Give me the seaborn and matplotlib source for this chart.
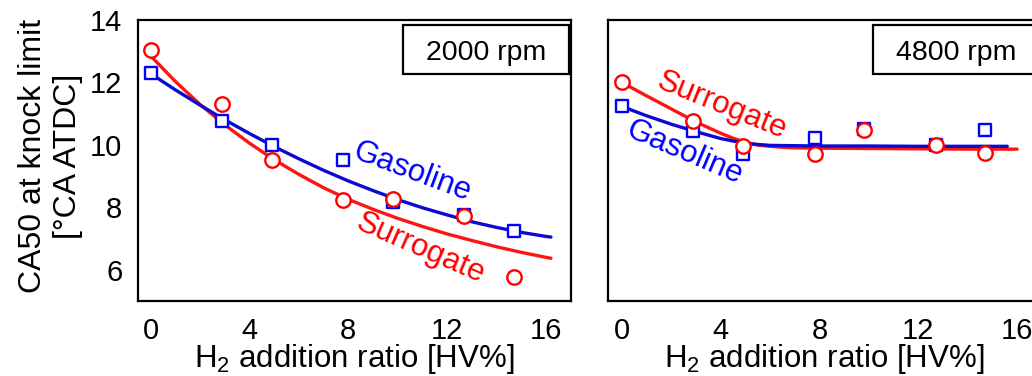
import matplotlib
matplotlib.use("Agg")
import matplotlib.pyplot as plt
from matplotlib.patches import Rectangle
import seaborn as sns

# H2 addition ratio of each measured point [HV%]
h2_ratio = [0, 2.9, 4.9, 7.8, 9.8, 12.7, 14.7]

# CA50 at knock limit [deg CA ATDC], 2000 rpm
gasoline_2000 = [12.3, 10.75, 10.0, 9.5, 8.17, 7.76, 7.25]
surrogate_2000 = [13.05, 11.3, 9.5, 8.23, 8.25, 7.73, 5.75]

# CA50 at knock limit [deg CA ATDC], 4800 rpm
gasoline_4800 = [11.23, 10.43, 9.7, 10.21, 10.5, 9.98, 10.48]
surrogate_4800 = [12.0, 10.75, 9.97, 9.71, 10.48, 9.98, 9.73]

# trend curves, 2000 rpm
trend_x_2000 = [0, 1, 2, 3, 4, 5, 6, 7, 8, 9, 10, 11, 12, 13, 14, 15, 16, 16.2]
gasoline_trend_2000 = [12.28, 11.76, 11.27, 10.80, 10.36, 9.94, 9.55, 9.18, 8.84,
                       8.53, 8.24, 7.98, 7.75, 7.53, 7.35, 7.19, 7.06, 7.04]
surrogate_trend_2000 = [12.85, 12.03, 11.29, 10.64, 10.05, 9.52, 9.05, 8.62, 8.25,
                        7.93, 7.64, 7.38, 7.14, 6.93, 6.73, 6.55, 6.39, 6.36]

# trend curves, 4800 rpm
gasoline_trend_x_4800 = [0, 1, 2, 3, 4, 4.5, 5, 5.5, 6, 7, 8, 10, 12, 14, 15.6]
gasoline_trend_4800 = [11.23, 10.93, 10.66, 10.42, 10.20, 10.12, 10.05, 10.01, 9.98,
                       9.97, 9.96, 9.96, 9.95, 9.95, 9.95]
surrogate_trend_x_4800 = [0, 1, 2, 3, 4, 4.5, 5, 5.5, 6, 6.5, 7, 8, 10, 12, 14, 16]
surrogate_trend_4800 = [12.0, 11.57, 11.15, 10.73, 10.37, 10.21, 10.08, 9.99, 9.95,
                        9.92, 9.90, 9.89, 9.88, 9.87, 9.86, 9.86]

speed_labels = ["2000 rpm", "4800 rpm"]
x_ticks = [0, 4, 8, 12, 16]
y_ticks = [6, 8, 10, 12, 14]

BLUE = "#0000ff"
RED = "#ff0000"
BLUE_LINE = "#0a0ad2"
RED_LINE = "#ff1414"

sns.set_theme(style="white")
plt.rcParams["font.family"] = ["Liberation Sans", "DejaVu Sans"]
plt.rcParams["text.color"] = "black"
plt.rcParams["axes.labelcolor"] = "black"
plt.rcParams["xtick.color"] = "black"
plt.rcParams["ytick.color"] = "black"

W, H = 1032, 376
fig = plt.figure(figsize=(W / 100, H / 100), dpi=100)
ax_w = 432.4 / W
ax_h = 280.7 / H
ax_b = 1 - 300.7 / H
ax1 = fig.add_axes([138.3 / W, ax_b, ax_w, ax_h])
ax2 = fig.add_axes([608.2 / W, ax_b, ax_w, ax_h])


def draw_panel(ax, gas, sur, gas_tx, gas_ty, sur_tx, sur_ty, speed):
    sns.lineplot(x=sur_tx, y=sur_ty, color=RED_LINE, linewidth=2.4, ax=ax, zorder=2)
    sns.lineplot(x=gas_tx, y=gas_ty, color=BLUE_LINE, linewidth=2.4, ax=ax, zorder=3)
    sns.scatterplot(x=h2_ratio, y=gas, marker="s", s=84, color="white",
                    edgecolor=BLUE, linewidth=1.7, ax=ax, zorder=4)
    sns.scatterplot(x=h2_ratio, y=sur, marker="o", s=108, color="white",
                    edgecolor=RED, linewidth=1.7, ax=ax, zorder=5)

    ax.set_ylim(5, 14)
    ax.set_xticks(x_ticks)
    ax.set_yticks(y_ticks)
    ax.tick_params(direction="in", length=3.5, width=1.4, labelsize=21, pad=11.5,
                   top=False, right=False)
    for sp in ax.spines.values():
        sp.set_linewidth(1.6)
        sp.set_color("black")

    ax.add_patch(Rectangle((0.612, 0.8076), 0.385, 0.1745, transform=ax.transAxes,
                           facecolor="white", edgecolor="black", linewidth=1.6,
                           zorder=6, clip_on=False))
    ax.text(0.8045, 0.8575, speed, transform=ax.transAxes, ha="center",
            va="baseline", fontsize=20.5, zorder=7)

    ax.set_xlabel("H$_\\mathregular{2}$ addition ratio [HV%]", fontsize=22.5)
    ax.xaxis.set_label_coords(0.5, -0.148)


draw_panel(ax1, gasoline_2000, surrogate_2000, trend_x_2000, gasoline_trend_2000,
           trend_x_2000, surrogate_trend_2000, speed_labels[0])
draw_panel(ax2, gasoline_4800, surrogate_4800, gasoline_trend_x_4800,
           gasoline_trend_4800, surrogate_trend_x_4800, surrogate_trend_4800,
           speed_labels[1])

ax1.set_xlim(-0.5, 17)
ax2.set_xlim(-0.55, 16.95)
ax2.tick_params(labelleft=False)

ax1.set_ylabel("CA50 at knock limit\n[°CA ATDC]", fontsize=23, linespacing=1.2)
ax1.yaxis.set_label_coords(-0.128, 0.515)
ax2.set_ylabel("")

# curve names written along the trend lines
txt = dict(ha="center", va="center", rotation_mode="anchor", fontsize=22.5, zorder=8)
ax1.text(10.6, 9.14, "Gasoline", rotation=-20.4, color=BLUE, **txt)
ax1.text(10.93, 6.68, "Surrogate", rotation=-23.5, color=RED, **txt)
ax2.text(4.06, 11.25, "Surrogate", rotation=-22, color=RED, **txt)
ax2.text(2.55, 9.73, "Gasoline", rotation=-23, color=BLUE, **txt)

fig.savefig("out.png", dpi=100)
